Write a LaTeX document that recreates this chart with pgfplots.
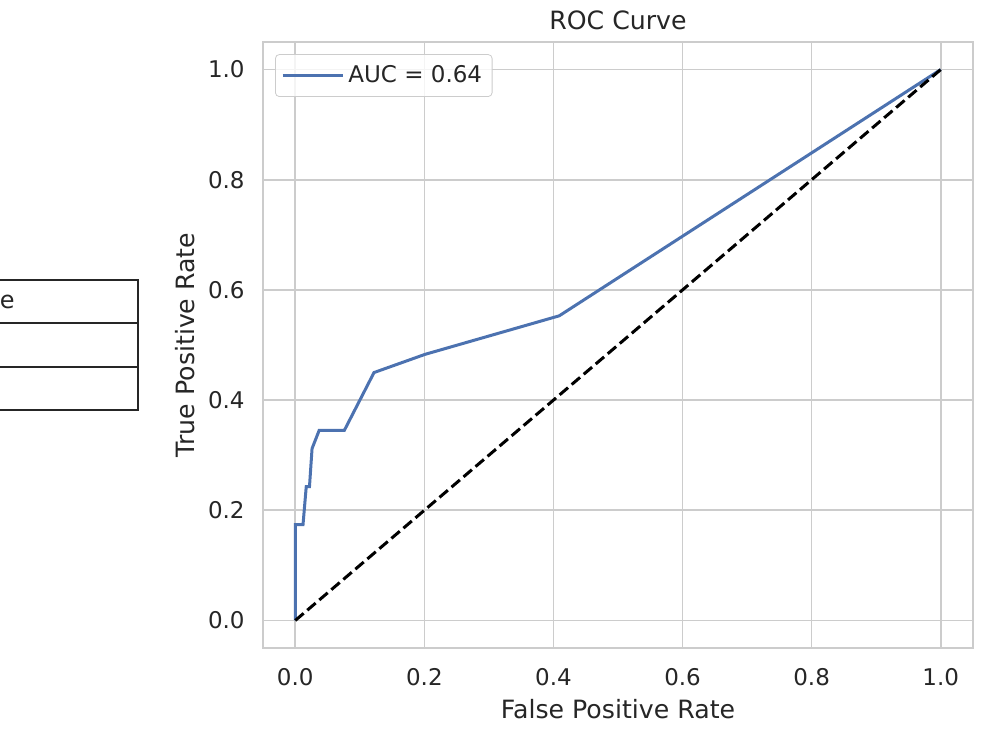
\documentclass[border=0pt]{standalone}
\usepackage{pgfplots}
\pgfplotsset{compat=1.18}
\usepackage{fontspec}
\setmainfont{DejaVu Sans}
\definecolor{txt}{HTML}{262626}
\definecolor{gridc}{HTML}{CCCCCC}
\definecolor{sblue}{HTML}{4C72B0}
\begin{document}
\begin{tikzpicture}
\useasboundingbox (0,0) rectangle (500pt,375pt);
\begin{scope}
\clip (0,0) rectangle (500pt,375pt);
\draw[txt, line width=0.8pt] (-10pt,235pt) -- (69pt,235pt) -- (69pt,170pt) -- (-10pt,170pt);
\draw[txt, line width=0.8pt] (-10pt,213.5pt) -- (69pt,213.5pt);
\draw[txt, line width=0.8pt] (-10pt,191.5pt) -- (69pt,191.5pt);
\node[anchor=base east, inner sep=0pt, text=txt, font=\fontsize{12}{14}\selectfont] at (7.5pt,220.5pt) {Value};
\end{scope}
\begin{axis}[
  at={(131.5pt,51pt)}, anchor=south west,
  scale only axis, width=355pt, height=303pt,
  xmin=-0.05, xmax=1.05, ymin=-0.05, ymax=1.05,
  xtick={0,0.2,0.4,0.6,0.8,1.0},
  ytick={0,0.2,0.4,0.6,0.8,1.0},
  /pgf/number format/assume math mode=true,
  xticklabel={\pgfmathprintnumber[fixed,fixed zerofill,precision=1]{\tick}},
  yticklabel={\pgfmathprintnumber[fixed,fixed zerofill,precision=1]{\tick}},
  tick label style={font=\fontsize{11.5}{14}\selectfont, text=txt},
  xticklabel style={anchor=base, yshift=-18.5pt, inner sep=0pt},
  yticklabel style={anchor=east, xshift=-9pt, inner sep=0pt},
  major tick length=0pt,
  tick style={draw=none},
  grid=major,
  major grid style={draw=gridc, line width=0.8pt},
  axis line style={draw=gridc, line width=1pt},
  xlabel={False Positive Rate},
  ylabel={True Positive Rate},
  xlabel style={at={(axis description cs:0.5,-0.117)}, anchor=base, inner sep=0pt, font=\fontsize{12.6}{15}\selectfont, text=txt},
  ylabel style={at={(axis description cs:-0.097,0.5)}, anchor=base, inner sep=0pt, font=\fontsize{12.6}{15}\selectfont, text=txt},
  legend style={at={(axis description cs:0.0169,0.980)}, anchor=north west,
    draw=gridc, rounded corners=2pt, fill=white, fill opacity=0.8, text opacity=1,
    font=\fontsize{11.5}{14}\selectfont, text=txt, inner xsep=3pt, inner ysep=3.5pt},
  legend image code/.code={\draw[#1] (0pt,0pt) -- (24pt,0pt); \path (0pt,0pt) -- (30pt,0pt);},
  clip=false,
]
\addplot[sblue, line width=1.5pt] coordinates {
(0,0) (0,0.174) (0.012,0.174) (0.017,0.243) (0.022,0.243) (0.026,0.312)
(0.037,0.345) (0.076,0.345) (0.122,0.450) (0.201,0.483) (0.409,0.553) (1,1)};
\addlegendentry{AUC = 0.64}
\addplot[black, line width=1.5pt, dash pattern=on 5.5pt off 2.4pt, forget plot] coordinates {(0,0) (1,1)};
\node[anchor=base, inner sep=0pt, text=txt, font=\fontsize{12.6}{15}\selectfont] at (axis description cs:0.5,1.02) {ROC Curve};
\end{axis}
\end{tikzpicture}
\end{document}
